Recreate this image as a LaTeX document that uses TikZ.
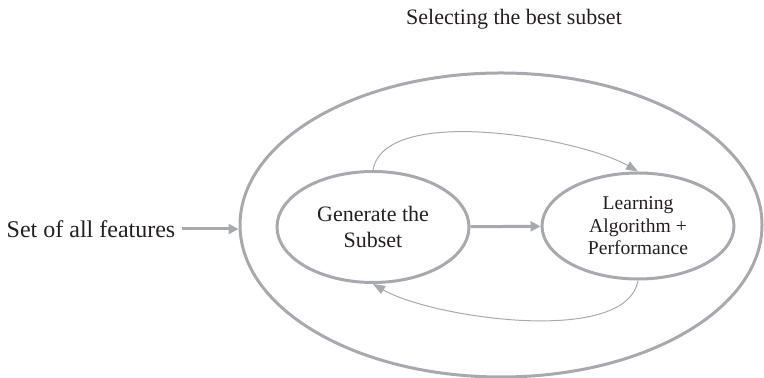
\documentclass[tikz,border=0pt]{standalone}
\usepackage{fontspec}
\setmainfont{Liberation Serif}
\usetikzlibrary{arrows.meta,shapes.geometric,positioning}
\definecolor{linegray}{RGB}{167,169,172}
\definecolor{textblack}{RGB}{35,31,32}

\begin{document}
\begin{tikzpicture}[x=0.5pt, y=0.5pt]
    \tikzstyle{bigring} = [ellipse, draw=linegray, line width=1.5pt, minimum width=261pt, minimum height=152pt, inner sep=0pt]
    \tikzstyle{vertex} = [ellipse, draw=linegray, line width=1.5pt, minimum width=96pt, inner sep=0pt, align=center, text=textblack]
    \tikzstyle{edge} = [draw=linegray, line width=1.5pt, -{Triangle[length=5pt,width=5pt]}]
    \tikzstyle{loopedge} = [draw=linegray, line width=0.5pt, -{Triangle[length=6pt,width=4.5pt]}]

    \useasboundingbox (0,0) rectangle (764,378);
    \node[bigring] (outer) at (501,153) {};
    \node[vertex, minimum height=55.5pt, font=\fontsize{11}{13}\selectfont] (gen) at (373,151) {Generate the\\Subset};
    \node[vertex, minimum height=53pt, font=\fontsize{9.8}{11.25}\selectfont] (learn) at (638,152) {Learning\\Algorithm +\\Performance};
    \node[text=textblack, font=\fontsize{12}{14}\selectfont, inner sep=3pt] (src) at (91,149) {Set of all features};
    \node[text=textblack, font=\fontsize{11}{13}\selectfont] (title) at (514,359) {Selecting the best subset};
    \draw[edge] (src.east) -- (src.east -| outer.west);
    \draw[edge] (gen) -- (learn);
    \draw[loopedge] (gen.north) to [out=80,in=150,looseness=0.65] (learn.north);
    \draw[loopedge] (learn.south) to [out=260,in=330,looseness=0.65] (gen.south);
\end{tikzpicture}
\end{document}
